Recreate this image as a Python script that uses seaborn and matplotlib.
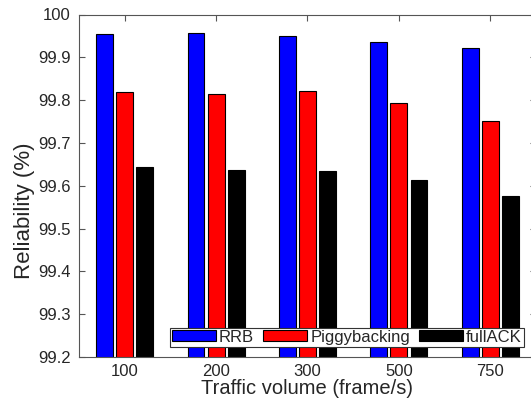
import matplotlib
matplotlib.use("Agg")
import matplotlib.pyplot as plt
import seaborn as sns
import pandas as pd

categories = ["100", "200", "300", "500", "750"]
series_names = ["RRB", "Piggybacking", "fullACK"]
rrb = [99.954, 99.956, 99.949, 99.935, 99.921]
piggy = [99.819, 99.815, 99.821, 99.793, 99.752]
fullack = [99.643, 99.637, 99.634, 99.613, 99.577]
yticks = [99.2, 99.3, 99.4, 99.5, 99.6, 99.7, 99.8, 99.9, 100]
ytick_labels = ["99.2", "99.3", "99.4", "99.5", "99.6", "99.7", "99.8", "99.9", "100"]
colors = ["#0000ff", "#ff0000", "#000000"]

rows = []
for name, vals in zip(series_names, [rrb, piggy, fullack]):
    for c, v in zip(categories, vals):
        rows.append({"Traffic": c, "Reliability": v, "Scheme": name})
df = pd.DataFrame(rows)

sns.set_style("ticks")
plt.rcParams["font.family"] = ["Liberation Sans", "DejaVu Sans"]
text_color = "#262626"

fig = plt.figure(figsize=(5.31, 4.03), dpi=100)
ax = fig.add_axes([79 / 531, 1 - 357 / 403, 457 / 531, (357 - 14.5) / 403])

sns.barplot(data=df, x="Traffic", y="Reliability", hue="Scheme",
            order=categories, hue_order=series_names, palette=colors,
            width=0.66, gap=0.16, edgecolor="black", linewidth=0.8,
            saturation=1, ax=ax)

ax.set_xlim(-0.5, 4.5)
ax.set_ylim(99.2, 100)
ax.set_yticks(yticks)
ax.set_yticklabels(ytick_labels)
ax.tick_params(axis="both", direction="in", labelsize=12, colors="#555555",
               labelcolor=text_color, top=True, right=True, length=4, width=0.8)
ax.tick_params(axis="x", pad=5)
ax.tick_params(axis="y", pad=5.8)
for s in ax.spines.values():
    s.set_color("#555555")
    s.set_linewidth(0.8)

ax.set_xlabel("Traffic volume (frame/s)", fontsize=14.5, color=text_color, labelpad=0)
ax.set_ylabel("Reliability (%)", fontsize=16, color=text_color)
ax.yaxis.set_label_coords(-0.097, 0.427)

handles, labels = ax.get_legend_handles_labels()
ax.legend(handles, labels, ncol=3, loc="lower right",
          bbox_to_anchor=(524 / 531, 1 - 346.7 / 403),
          bbox_transform=fig.transFigure, borderaxespad=0,
          fontsize=12, frameon=True, fancybox=False, edgecolor="#333333",
          framealpha=1, handlelength=2.64, handleheight=0.62,
          handletextpad=0.18, columnspacing=0.55, borderpad=0.12)
leg = ax.get_legend()
leg.get_frame().set_linewidth(0.8)
for t in leg.get_texts():
    t.set_color(text_color)

fig.savefig("out.png", dpi=100)
